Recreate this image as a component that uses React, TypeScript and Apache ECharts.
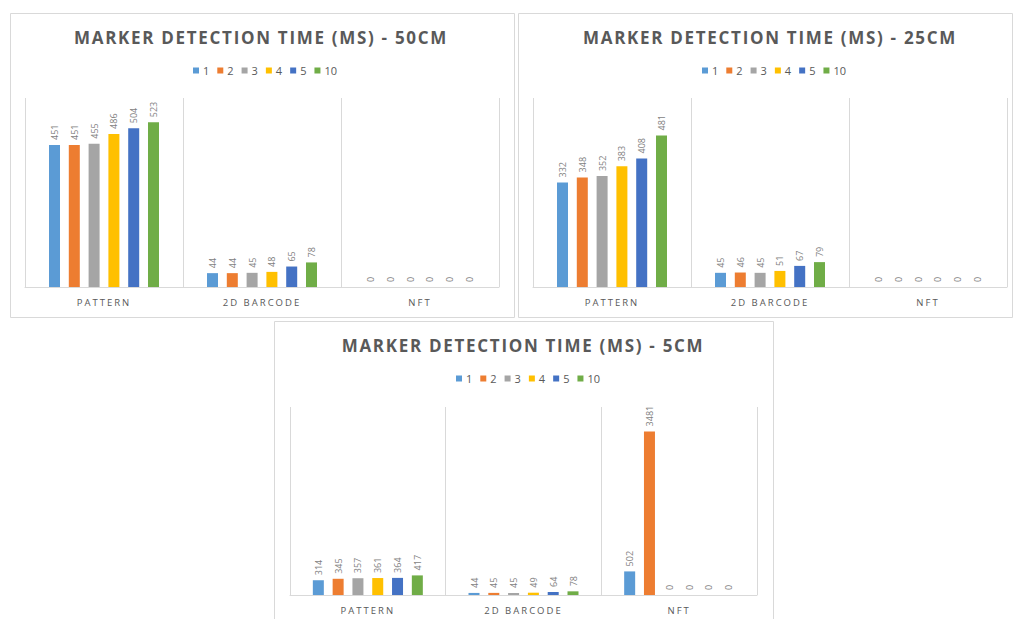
import React, { useEffect, useRef } from "react";
import * as echarts from "echarts";

const categories = ["PATTERN", "2D BARCODE", "NFT"];
const seriesNames = ["1", "2", "3", "4", "5", "10"];
const colors = ["#5B9BD5", "#ED7D31", "#A5A5A5", "#FFC000", "#4472C4", "#70AD47"];

const titles = [
  "MARKER DETECTION TIME (MS) - 50CM",
  "MARKER DETECTION TIME (MS) - 25CM",
  "MARKER DETECTION TIME (MS) - 5CM",
];

// 50 cm
const pattern50 = [451, 451, 455, 486, 504, 523];
const barcode50 = [44, 44, 45, 48, 65, 78];
const nft50 = [0, 0, 0, 0, 0, 0];
// 25 cm
const pattern25 = [332, 348, 352, 383, 408, 481];
const barcode25 = [45, 46, 45, 51, 67, 79];
const nft25 = [0, 0, 0, 0, 0, 0];
// 5 cm
const pattern5 = [314, 345, 357, 361, 364, 417];
const barcode5 = [44, 45, 45, 49, 64, 78];
const nft5 = [502, 3481, 0, 0, 0, 0];

const axisMax = [600, 600, 4000];

const panels = [
  { pattern: pattern50, barcode: barcode50, nft: nft50 },
  { pattern: pattern25, barcode: barcode25, nft: nft25 },
  { pattern: pattern5, barcode: barcode5, nft: nft5 },
];

// layout
const frames = [
  { x: 10, y: 13, w: 504, h: 304 },
  { x: 518, y: 13, w: 494, h: 304 },
  { x: 274, y: 321, w: 499, h: 300 },
];
const grids = [
  { left: 25, top: 98, width: 474, height: 189 },
  { left: 533, top: 98, width: 474, height: 189 },
  { left: 290, top: 407, width: 467, height: 188 },
];
const titlePos = [
  { x: 261, y: 37 },
  { x: 770, y: 37 },
  { x: 523, y: 345 },
];
const legendPos = [
  { left: 188, top: 60 },
  { left: 697, top: 60 },
  { left: 451, top: 368 },
];

const FONT = "'Open Sans', sans-serif";

const css = `
#chart-root svg text[style*="bold 17px"] { letter-spacing: 1.7px; }
#chart-root svg text[style*="9.5px"] { letter-spacing: 2px; }
`;

export default function App() {
  const ref = useRef<HTMLDivElement>(null);
  useEffect(() => {
    if (!ref.current) return;
    const chart = echarts.init(ref.current, undefined, { renderer: "svg" });

    const series: any[] = [];
    panels.forEach((p, pi) => {
      seriesNames.forEach((name, i) => {
        series.push({
          type: "bar",
          name,
          xAxisIndex: pi,
          yAxisIndex: pi,
          data: [p.pattern[i], p.barcode[i], p.nft[i]],
          barWidth: 11,
          barGap: "80%",
          itemStyle: { color: colors[i] },
          label: {
            show: true,
            position: "top",
            rotate: 90,
            align: "left",
            verticalAlign: "middle",
            distance: 5,
            color: "#7f7f7f",
            fontSize: 9,
            fontFamily: FONT,
          },
        });
      });
    });

    const graphic: any[] = [];
    frames.forEach((f) => {
      graphic.push({
        type: "rect",
        shape: { x: f.x + 0.5, y: f.y + 0.5, width: f.w, height: f.h },
        style: { fill: "#ffffff", stroke: "#d9d9d9", lineWidth: 1 },
        z: -10,
        silent: true,
      });
    });
    titlePos.forEach((t, i) => {
      graphic.push({
        type: "text",
        x: t.x,
        y: t.y,
        style: {
          text: titles[i],
          fill: "#595959",
          font: `bold 17px ${FONT}`,
          textAlign: "center",
          textVerticalAlign: "middle",
        },
      });
    });

    chart.setOption({
      animation: false,
      backgroundColor: "#ffffff",
      graphic,
      legend: legendPos.map((l) => ({
        left: l.left,
        top: l.top,
        data: seriesNames,
        itemWidth: 6,
        itemHeight: 6,
        itemGap: 8,
        icon: "rect",
        textStyle: { color: "#595959", fontSize: 11, fontFamily: FONT, padding: [0, 0, 0, -1] },
        selectedMode: false,
      })),
      grid: grids.map((g) => ({ ...g, containLabel: false })),
      xAxis: grids.map((_, i) => ({
        type: "category",
        gridIndex: i,
        data: categories,
        axisLine: { lineStyle: { color: "#d9d9d9", width: 1 } },
        axisTick: { show: false },
        splitLine: { show: true, lineStyle: { color: "#d9d9d9", width: 1 } },
        axisLabel: { color: "#595959", fontSize: 9.5, fontFamily: FONT, margin: 10, interval: 0 },
      })),
      yAxis: grids.map((_, i) => ({
        type: "value",
        gridIndex: i,
        min: 0,
        max: axisMax[i],
        show: false,
        splitLine: { show: false },
      })),
      series,
    });

    return () => chart.dispose();
  }, []);

  return (
    <div id="chart-root" style={{ position: "absolute", left: 0, top: 0, width: 1013, height: 619 }}>
      <style>{css}</style>
      <div ref={ref} style={{ width: 1013, height: 619 }} />
    </div>
  );
}
